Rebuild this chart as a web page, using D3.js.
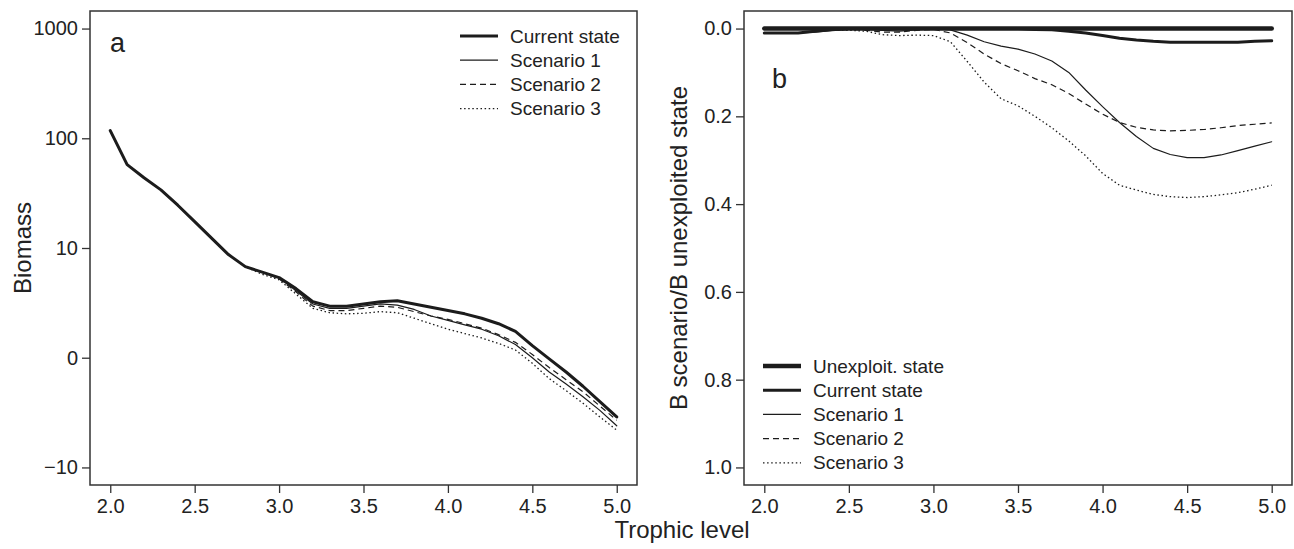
<!DOCTYPE html>
<html lang="en">
  <head>
    <meta charset="UTF-8" />
    <title>Biomass by trophic level</title>
    <script src="https://d3js.org/d3.v7.min.js"></script>
    <style>
      body {
        margin: 0;
        background: #fff;
        font-family: 'Liberation Sans', Arial, sans-serif;
      }
      .tick text {
        fill: #222;
      }
    </style>
  </head>
  <body>
    <svg id="chart" width="1294" height="549"></svg>
    <script>
      // trophic levels
      const trophic = [2.0, 2.1, 2.2, 2.3, 2.4, 2.5, 2.6, 2.7, 2.8, 2.9, 3.0, 3.1, 3.2, 3.3, 3.4, 3.5,
        3.6, 3.7, 3.8, 3.9, 4.0, 4.1, 4.2, 4.3, 4.4, 4.5, 4.6, 4.7, 4.8, 4.9, 5.0];

      // panel a, biomass in axis (log) units
      const aCurrent = [2.07, 1.76, 1.64, 1.53, 1.39, 1.24, 1.09, 0.94, 0.83, 0.78, 0.73, 0.63, 0.51, 0.47, 0.47, 0.49,
        0.51, 0.52, 0.49, 0.46, 0.43, 0.40, 0.36, 0.31, 0.24, 0.11, -0.01, -0.13, -0.26, -0.40, -0.54];
      const aScen1 = [2.07, 1.76, 1.64, 1.53, 1.39, 1.24, 1.09, 0.94, 0.83, 0.78, 0.73, 0.61, 0.49, 0.45, 0.45, 0.47,
        0.49, 0.48, 0.44, 0.38, 0.34, 0.30, 0.26, 0.20, 0.12, 0.0, -0.13, -0.24, -0.355, -0.48, -0.62];
      const aScen2 = [2.07, 1.76, 1.64, 1.53, 1.39, 1.24, 1.09, 0.94, 0.83, 0.78, 0.72, 0.60, 0.47, 0.43, 0.43, 0.45,
        0.47, 0.46, 0.42, 0.38, 0.35, 0.31, 0.27, 0.21, 0.14, 0.03, -0.09, -0.20, -0.31, -0.44, -0.57];
      const aScen3 = [2.07, 1.76, 1.64, 1.53, 1.39, 1.24, 1.09, 0.94, 0.83, 0.76, 0.71, 0.58, 0.45, 0.41, 0.40, 0.405,
        0.42, 0.41, 0.36, 0.31, 0.26, 0.22, 0.18, 0.13, 0.07, -0.05, -0.19, -0.30, -0.415, -0.54, -0.66];
      const aTicks = [3, 2, 1, 0, -1];
      const aTickLabels = ['1000', '100', '10', '0', '\u221210'];

      // panel b, B scenario / B unexploited
      const bUnexpl = [0, 0, 0, 0, 0, 0, 0, 0, 0, 0, 0, 0, 0, 0, 0, 0,
        0, 0, 0, 0, 0, 0, 0, 0, 0, 0, 0, 0, 0, 0, 0];
      const bCurrent = [0.01, 0.01, 0.01, 0.006, 0.003, 0.0, 0.0, 0.0, 0.0, 0.0, 0.0, 0.0, 0.0, 0.0, 0.0, 0.0,
        0.002, 0.003, 0.006, 0.01, 0.016, 0.022, 0.026, 0.029, 0.031, 0.031, 0.031, 0.031, 0.031, 0.029, 0.028];
      const bScen1 = [0.01, 0.01, 0.01, 0.008, 0.004, 0.002, 0.002, 0.004, 0.006, 0.003, 0.0, 0.003, 0.015, 0.03, 0.04, 0.047,
        0.058, 0.074, 0.10, 0.14, 0.178, 0.214, 0.246, 0.273, 0.287, 0.294, 0.294, 0.288, 0.278, 0.268, 0.258];
      const bScen2 = [0.01, 0.01, 0.01, 0.006, 0.003, 0.002, 0.004, 0.008, 0.008, 0.004, 0.002, 0.01, 0.032, 0.058, 0.08, 0.096,
        0.114, 0.128, 0.148, 0.172, 0.195, 0.214, 0.225, 0.231, 0.233, 0.232, 0.23, 0.226, 0.221, 0.218, 0.215];
      const bScen3 = [0.01, 0.01, 0.01, 0.006, 0.003, 0.004, 0.006, 0.014, 0.016, 0.015, 0.016, 0.03, 0.075, 0.122, 0.16, 0.176,
        0.2, 0.226, 0.256, 0.29, 0.33, 0.357, 0.368, 0.378, 0.383, 0.385, 0.383, 0.379, 0.374, 0.366, 0.357];
      const bTicks = [0.0, 0.2, 0.4, 0.6, 0.8, 1.0];
      const xTicks = [2.0, 2.5, 3.0, 3.5, 4.0, 4.5, 5.0];

      // line styles
      const styles = {
        unexpl: { width: 4.5, dash: null },
        current: { width: 3, dash: null },
        s1: { width: 1.2, dash: null },
        s2: { width: 1.2, dash: '6,4' },
        s3: { width: 1.3, dash: '1.5,2.6' },
      };

      const svg = d3.select('#chart');
      const ink = '#1c1c1c';

      function drawPanel(opt) {
        const { left, right, top, bottom } = opt;
        const x = d3.scaleLinear().domain([1.88, 5.12]).range([left, right]);
        const y = d3.scaleLinear().domain(opt.yDomain).range([bottom, top]);
        const g = svg.append('g');

        // frame
        g.append('rect')
          .attr('x', left)
          .attr('y', top)
          .attr('width', right - left)
          .attr('height', bottom - top)
          .attr('fill', 'none')
          .attr('stroke', '#333')
          .attr('stroke-width', 1.5);

        const xAxis = g
          .append('g')
          .attr('transform', `translate(0,${bottom})`)
          .call(d3.axisBottom(x).tickValues(xTicks).tickFormat(d3.format('.1f')).tickSize(8).tickPadding(6));
        const yAxis = g
          .append('g')
          .attr('transform', `translate(${left},0)`)
          .call(d3.axisLeft(y).tickValues(opt.yTicks).tickFormat(opt.yFormat).tickSize(8).tickPadding(4));
        [xAxis, yAxis].forEach((a) => {
          a.select('.domain').remove();
          a.selectAll('.tick line').attr('stroke', '#333').attr('stroke-width', 1.3);
          a.selectAll('.tick text').attr('font-size', 20).attr('font-family', "'Liberation Sans', Arial, sans-serif");
        });

        const line = d3
          .line()
          .x((d, i) => x(trophic[i]))
          .y((d) => y(d));

        opt.series.forEach((s) => {
          const st = styles[s.style];
          g.append('path')
            .datum(s.values)
            .attr('d', line)
            .attr('fill', 'none')
            .attr('stroke', ink)
            .attr('stroke-width', st.width)
            .attr('stroke-dasharray', st.dash)
            .attr('stroke-linejoin', 'round')
            .attr('stroke-linecap', st.dash ? 'butt' : 'round');
        });

        // legend
        const lg = g.append('g');
        opt.legend.items.forEach((s, i) => {
          const st = styles[s.style];
          const cy = opt.legend.y + i * 24.2;
          lg.append('line')
            .attr('x1', opt.legend.x)
            .attr('x2', opt.legend.x + 38)
            .attr('y1', cy)
            .attr('y2', cy)
            .attr('stroke', ink)
            .attr('stroke-width', st.width)
            .attr('stroke-dasharray', st.dash);
          lg.append('text')
            .attr('x', opt.legend.x + 50)
            .attr('y', cy)
            .attr('dy', '0.35em')
            .attr('font-size', 19)
            .attr('fill', '#222')
            .text(s.label);
        });

        // panel letter
        g.append('text')
          .attr('x', opt.letter.x)
          .attr('y', opt.letter.y)
          .attr('font-size', 27)
          .attr('fill', '#222')
          .text(opt.letter.text);

        // y title
        g.append('text')
          .attr('transform', `translate(${opt.yTitle.x},${(top + bottom) / 2}) rotate(-90)`)
          .attr('text-anchor', 'middle')
          .attr('font-size', 24)
          .attr('fill', '#222')
          .text(opt.yTitle.text);
      }

      const aLabel = d3.scaleOrdinal().domain(aTicks).range(aTickLabels);

      drawPanel({
        left: 90,
        right: 637,
        top: 11,
        bottom: 485,
        yDomain: [-1.16, 3.16],
        yTicks: aTicks,
        yFormat: (d) => aLabel(d),
        series: [
          { values: aScen3, style: 's3' },
          { values: aScen2, style: 's2' },
          { values: aScen1, style: 's1' },
          { values: aCurrent, style: 'current' },
        ],
        legend: {
          x: 460,
          y: 36,
          items: [
            { label: 'Current state', style: 'current' },
            { label: 'Scenario 1', style: 's1' },
            { label: 'Scenario 2', style: 's2' },
            { label: 'Scenario 3', style: 's3' },
          ],
        },
        letter: { x: 110, y: 52, text: 'a' },
        yTitle: { x: 31, text: 'Biomass' },
      });

      drawPanel({
        left: 744,
        right: 1292,
        top: 11,
        bottom: 485,
        yDomain: [1.04, -0.04],
        yTicks: bTicks,
        yFormat: d3.format('.1f'),
        series: [
          { values: bScen3, style: 's3' },
          { values: bScen2, style: 's2' },
          { values: bScen1, style: 's1' },
          { values: bCurrent, style: 'current' },
          { values: bUnexpl, style: 'unexpl' },
        ],
        legend: {
          x: 763,
          y: 366,
          items: [
            { label: 'Unexploit. state', style: 'unexpl' },
            { label: 'Current state', style: 'current' },
            { label: 'Scenario 1', style: 's1' },
            { label: 'Scenario 2', style: 's2' },
            { label: 'Scenario 3', style: 's3' },
          ],
        },
        letter: { x: 772, y: 88, text: 'b' },
        yTitle: { x: 687, text: 'B scenario/B unexploited state' },
      });

      // shared x title
      svg
        .append('text')
        .attr('x', 682)
        .attr('y', 538)
        .attr('text-anchor', 'middle')
        .attr('font-size', 24)
        .attr('fill', '#222')
        .text('Trophic level');
    </script>
  </body>
</html>
